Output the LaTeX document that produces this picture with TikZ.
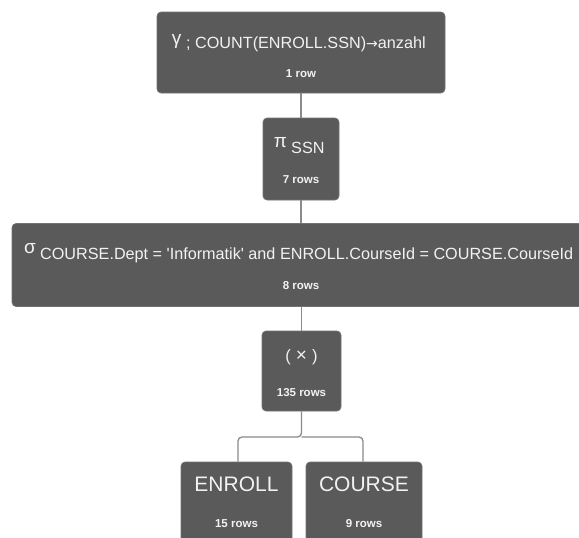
\documentclass[tikz,border=0pt]{standalone}
\usepackage{fontspec}
\setmainfont{Liberation Sans}
\newfontfamily\arrowfont{DejaVu Sans}
\definecolor{boxfill}{HTML}{5A5A5A}
\definecolor{boxtext}{HTML}{F2F2F2}
\definecolor{linegray}{HTML}{8A8A8A}
\tikzset{
  opbox/.style={draw=boxfill!85!white, line width=0.6pt, fill=boxfill, rounded corners=4pt, inner sep=0pt},
  head/.style={text=boxtext, font=\fontsize{16.2}{19}\selectfont, inner sep=0pt, anchor=base},
  greek/.style={text=boxtext, font=\fontsize{19}{22}\selectfont, inner sep=0pt, anchor=south},
  rowtxt/.style={text=boxtext, font=\bfseries\fontsize{11.5}{13}\selectfont, inner sep=0pt, anchor=base},
  conn/.style={draw=linegray, line width=1.3pt}
}
\begin{document}
\begin{tikzpicture}[x=1pt,y=-1pt]
\useasboundingbox[fill=white] (0,0) rectangle (579,538);
% boxes
\node[opbox, minimum width=288pt, minimum height=81pt] (gam) at (301,52.5) {};
\node[opbox, minimum width=76pt, minimum height=82pt] (pi) at (301,159) {};
\node[opbox, minimum width=590pt, minimum height=83pt] (sig) at (307,265) {};
\node[opbox, minimum width=79pt, minimum height=80pt] (cross) at (301.5,371) {};
\node[opbox, minimum width=111pt, minimum height=100pt] (enroll) at (236.5,512) {};
\node[opbox, minimum width=116pt, minimum height=100pt] (course) at (364,512) {};
% connectors
\draw[conn] (gam.south) -- (pi.north);
\draw[conn] (pi.south) -- (sig.north -| pi.south);
\draw[conn] (sig.south -| cross.north) -- (cross.north);
\coordinate (split) at (301.5,437);
\draw[conn, rounded corners=4pt] (cross.south) -- (split) -| (enroll.north -| 238,0);
\draw[conn, rounded corners=4pt] (split) -| (course.north -| 363,0);
% texts
\node[greek] (gtxt) at (176.5,48.5) {γ};
\node[head, anchor=base west] (gcount) at (186,48) {; COUNT(ENROLL.SSN){\arrowfont\fontsize{14}{16}\selectfont →}anzahl};
\node[rowtxt] (grow) at (301,77) {1 row};
\node[greek] (ptxt) at (280.5,148) {π};
\node[head, anchor=base west] (pssn) at (291,153.5) {SSN};
\node[rowtxt] (prow) at (301,183) {7 rows};
\node[greek] (stxt) at (30,253.5) {σ};
\node[head, anchor=base west] (scond) at (40,259) {COURSE.Dept = \textquotesingle Informatik\textquotesingle{} and ENROLL.CourseId = COURSE.CourseId};
\node[rowtxt] (srow) at (301,289) {8 rows};
\node[head, font=\fontsize{16.5}{20}\selectfont] (ctxt) at (301.5,361) {(\hspace{5pt}{\fontsize{19}{20}\selectfont ×}\hspace{5pt})};
\node[rowtxt] (crow) at (301.5,396) {135 rows};
\node[head, font=\fontsize{21}{24}\selectfont] (etxt) at (236.5,491) {ENROLL};
\node[rowtxt] (erow) at (236.5,527) {15 rows};
\node[head, font=\fontsize{21}{24}\selectfont] (ctxt2) at (364,491) {COURSE};
\node[rowtxt] (corow) at (364,527) {9 rows};
\end{tikzpicture}
\end{document}
